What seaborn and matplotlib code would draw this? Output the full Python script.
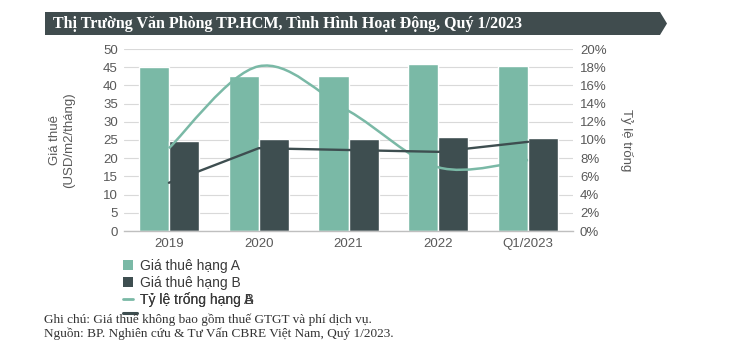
import matplotlib
matplotlib.use("Agg")
import matplotlib.pyplot as plt
from matplotlib.patches import Patch, Polygon, PathPatch
from matplotlib.lines import Line2D
from matplotlib.path import Path
import numpy as np
import pandas as pd
import seaborn as sns

# dữ liệu
years = ["2019", "2020", "2021", "2022", "Q1/2023"]
rent_a = [45.1, 42.7, 42.7, 45.9, 45.4]     # USD/m2/tháng
rent_b = [24.7, 25.3, 25.3, 25.7, 25.5]
vacancy_a = [9.1, 18.1, 13.2, 7.0, 7.8]     # %
vacancy_b = [5.3, 9.1, 8.9, 8.7, 9.8]

left_ticks = list(range(0, 55, 5))
right_ticks = list(range(0, 22, 2))

teal = "#7ab9a6"
dark = "#3e4e50"
grey = "#595959"
SANS = ["Liberation Sans", "DejaVu Sans"]
SERIF = ["Liberation Serif", "DejaVu Serif"]

sns.set_theme(style="white")
plt.rcParams["font.family"] = SANS

W, H = 736, 356
fig = plt.figure(figsize=(W / 100, H / 100), dpi=100)
ax = fig.add_axes([124 / W, 1 - 231 / H, 449 / W, 182 / H])

# 1. cột giá thuê
df = pd.DataFrame({
    "Năm": years * 2,
    "Giá": rent_a + rent_b,
    "Hạng": ["Giá thuê hạng A"] * 5 + ["Giá thuê hạng B"] * 5,
})
sns.barplot(data=df, x="Năm", y="Giá", hue="Hạng", palette=[teal, dark],
            width=0.67, gap=0, saturation=1, errorbar=None, legend=False, ax=ax)
ax.set_xlim(-0.5, 4.5)
ax.set_ylim(0, 50)
ax.set_yticks(left_ticks)
ax.set_xlabel("")
ax.set_ylabel("")
ax.yaxis.grid(True, color="#d9d9d9", lw=0.8)
ax.set_axisbelow(True)
for s in ["left", "right", "top"]:
    ax.spines[s].set_visible(False)
ax.spines["bottom"].set_color("#bfbfbf")
ax.spines["bottom"].set_linewidth(1)
ax.tick_params(axis="y", length=0, pad=4.5, colors=grey, labelsize=9.5)
ax.tick_params(axis="x", length=0, pad=5, colors=grey, labelsize=9.5)

# 2. đường tỷ lệ trống (trục phải)
ax2 = ax.twinx()
ax2.set_ylim(0, 20)
ax2.set_yticks(right_ticks)
ax2.set_yticklabels([f"{t}%" for t in right_ticks])
for s in ["left", "right", "top", "bottom"]:
    ax2.spines[s].set_visible(False)
ax2.tick_params(axis="y", length=0, pad=5, colors=grey, labelsize=9.5)

# đường cong mượt kiểu Excel (Bezier Catmull-Rom)
xs = list(range(len(years)))
verts = [(xs[0], vacancy_a[0])]
codes = [Path.MOVETO]
n = len(xs)
for i in range(n - 1):
    p = max(i - 1, 0)
    q = min(i + 2, n - 1)
    c1 = (xs[i] + (xs[i + 1] - xs[p]) / 6, vacancy_a[i] + (vacancy_a[i + 1] - vacancy_a[p]) / 6)
    c2 = (xs[i + 1] - (xs[q] - xs[i]) / 6, vacancy_a[i + 1] - (vacancy_a[q] - vacancy_a[i]) / 6)
    verts += [c1, c2, (xs[i + 1], vacancy_a[i + 1])]
    codes += [Path.CURVE4] * 3
ax2.add_patch(PathPatch(Path(verts, codes), fill=False, edgecolor=teal, lw=1.8))

sns.lineplot(x=xs, y=vacancy_b, color=dark, lw=1.7, ax=ax2)
ax2.set_ylabel("")

# nhãn trục
fig.text(62 / W, 1 - 140 / H, "Giá thuê\n(USD/m2/tháng)", rotation=90, ha="center",
         va="center", fontsize=9.5, color=grey, linespacing=1.25)
fig.text(627 / W, 1 - 140 / H, "Tỷ lệ trống", rotation=270, ha="center",
         va="center", fontsize=9.5, color=grey)

# 3. tiêu đề dạng băng
band = [(45, 12), (660, 12), (667, 23.5), (660, 35), (45, 35)]
fig.patches.append(Polygon([(x / W, 1 - y / H) for x, y in band], closed=True,
                           transform=fig.transFigure, facecolor="#404c4e", edgecolor="none"))
fig.text(53 / W, 1 - 23.5 / H, "Thị Trường Văn Phòng TP.HCM, Tình Hình Hoạt Động, Quý 1/2023",
         family=SERIF, fontweight="bold", fontsize=11.5, color="white", ha="left", va="center")

# 4. chú giải
handles = [
    Patch(facecolor=teal, edgecolor="none"),
    Patch(facecolor=dark, edgecolor="none"),
    Line2D([], [], color=teal, lw=2),
]
labels = ["Giá thuê hạng A", "Giá thuê hạng B", "Tỷ lệ trống hạng A"]
leg = fig.legend(handles, labels, loc="upper left", bbox_to_anchor=(123 / W, 1 - 259 / H),
                 frameon=False, fontsize=10, handlelength=0.75, handleheight=0.75,
                 handletextpad=0.5, labelspacing=0.2, borderpad=0, borderaxespad=0)
for t in leg.get_texts():
    t.set_color("#3a3a3a")

fig.canvas.draw()
bb = leg.get_texts()[2].get_window_extent().transformed(fig.transFigure.inverted())
fig.text(bb.x0, bb.y0, "Tỷ lệ trống hạng B", fontsize=10, color="#3a3a3a",
         ha="left", va="bottom")
fig.lines.append(Line2D([123 / W, 137 / W], [1 - 313 / H, 1 - 313 / H],
                        transform=fig.transFigure, color=dark, lw=2.2))

# 5. ghi chú
fig.text(44 / W, 1 - 320 / H, "Ghi chú: Giá thuê không bao gồm thuế GTGT và phí dịch vụ.",
         family=SERIF, fontsize=9.5, color="#333333", ha="left", va="center")
fig.text(44 / W, 1 - 334 / H, "Nguồn: BP. Nghiên cứu & Tư Vấn CBRE Việt Nam, Quý 1/2023.",
         family=SERIF, fontsize=9.5, color="#333333", ha="left", va="center")

fig.savefig("out.png", dpi=100)
